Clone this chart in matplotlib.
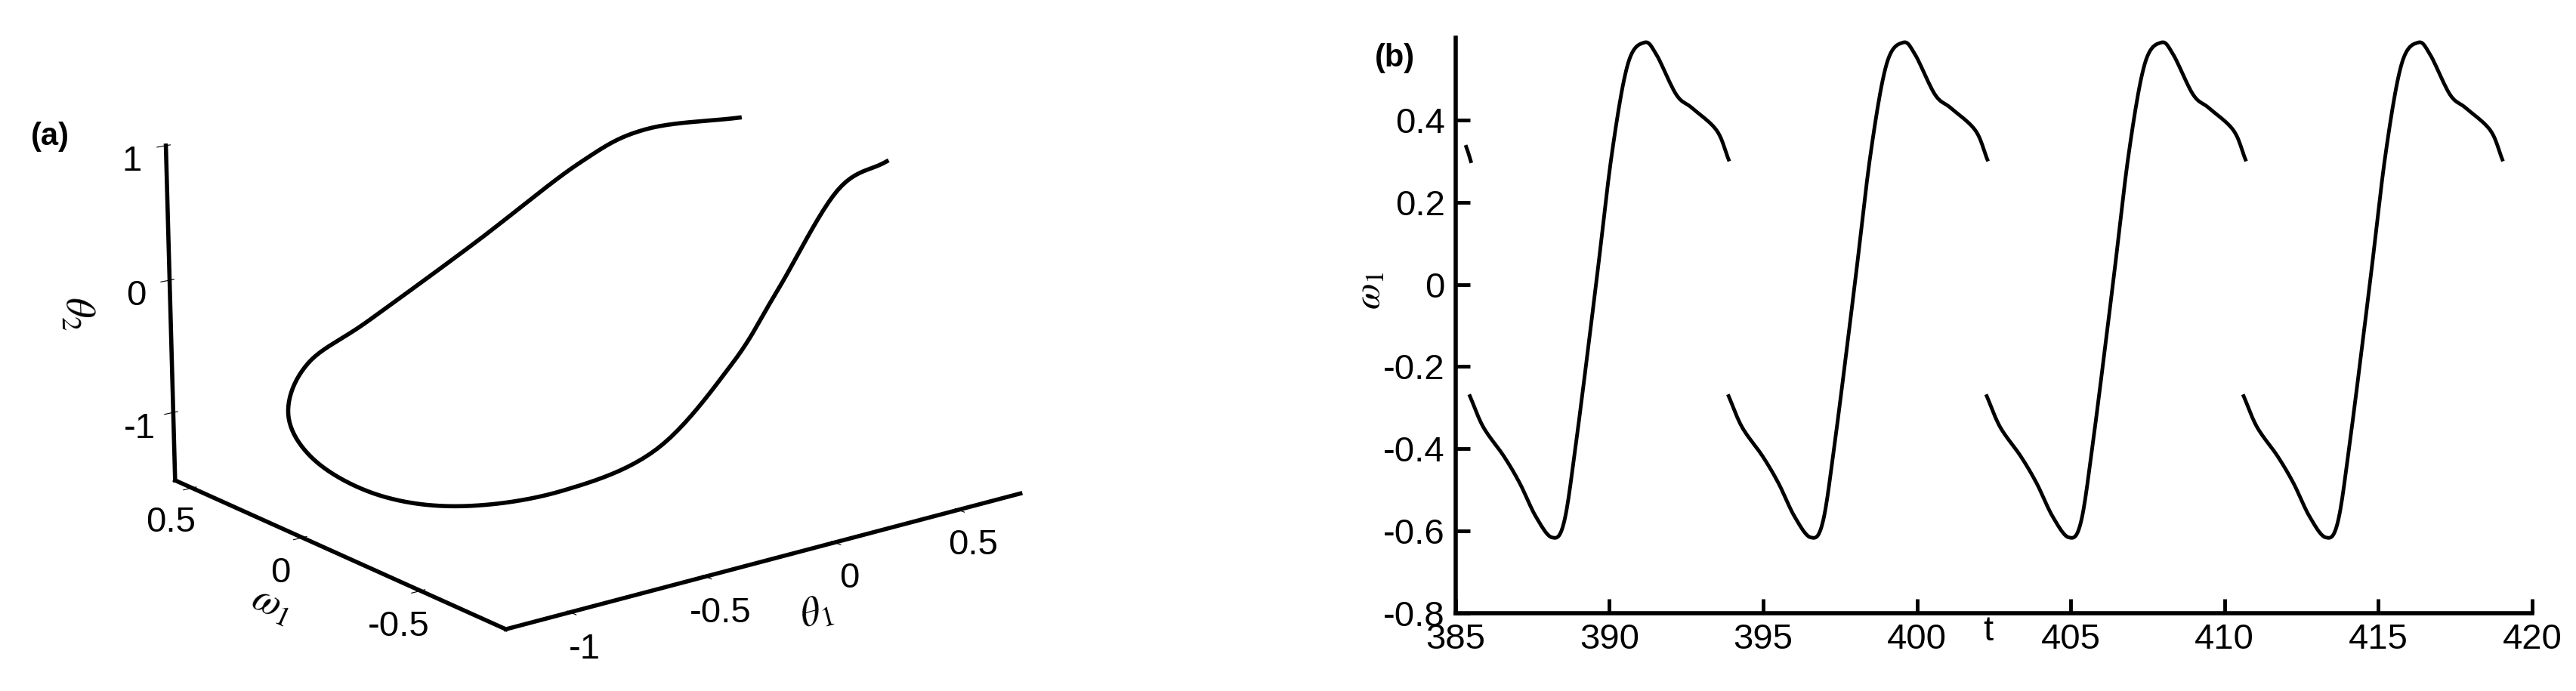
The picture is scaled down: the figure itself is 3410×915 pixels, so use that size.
import numpy as np
import matplotlib
matplotlib.use("Agg")
import matplotlib.pyplot as plt

plt.rcParams['font.family'] = ['Liberation Sans', 'DejaVu Sans']
plt.rcParams['mathtext.fontset'] = 'stix'

# (a) periodic orbit
theta1 = [0.80, 0.51, 0.20, -0.04, -0.42, -0.82, -1.12, -1.20, -1.22, -1.15,
          -0.91, -0.55, -0.05, 0.31, 0.50, 0.77]
omega1_3d = [-0.27, -0.35, -0.42, -0.48, -0.57, -0.62, -0.55, -0.30, -0.05, 0.15,
             0.35, 0.50, 0.59, 0.52, 0.43, 0.30]
theta2 = [0.63, 0.56, -0.02, -0.43, -0.83, -0.91, -0.93, -1.00, -0.92, -0.75,
          -0.61, -0.53, -0.18, 0.35, 0.60, 0.67]

# (b) one cycle of omega_1(t), relative to each segment start
cycle_dt = [0.0, 0.44, 1.10, 1.62, 2.14, 2.66, 3.05, 3.45, 4.10, 4.62, 5.14,
            5.67, 6.06, 6.71, 7.23, 8.02, 8.41]
cycle_w = [-0.272, -0.348, -0.418, -0.484, -0.565, -0.616, -0.582, -0.386, 0.0,
           0.321, 0.538, 0.589, 0.56, 0.462, 0.429, 0.375, 0.304]
seg_starts = [385.47, 393.88, 402.27, 410.62]
frag_t = [385.35, 385.42, 385.50]
frag_w = [0.335, 0.32, 0.30]


def smooth(*cols, n=12):
    # Catmull-Rom curve through the read points, only to draw them smoothly
    p = np.array(cols, dtype=float).T
    p = np.vstack([2 * p[0] - p[1], p, 2 * p[-1] - p[-2]])
    out = []
    for i in range(1, len(p) - 2):
        p0, p1, p2, p3 = p[i - 1], p[i], p[i + 1], p[i + 2]
        for s in np.linspace(0, 1, n, endpoint=False):
            out.append(0.5 * (2 * p1 + (p2 - p0) * s
                              + (2 * p0 - 5 * p1 + 4 * p2 - p3) * s ** 2
                              + (3 * p1 - p0 - 3 * p2 + p3) * s ** 3))
    out.append(p[-2])
    return np.array(out).T


fig = plt.figure(figsize=(34.1, 9.15), dpi=100)
FS = 34

# ---- panel (a)
ax = fig.add_axes([-0.033, -0.07, 0.52, 1.18], projection='3d')
ax.set_box_aspect((1.85, 1.6, 1), zoom=1.1)
x3, y3, z3 = smooth(theta1, omega1_3d, theta2)
ax.plot(x3, y3, z3, color='black', lw=4)
ax.set_xlim(-1.23, 0.76)
ax.set_ylim(-0.84, 0.58)
ax.set_zlim(-1.52, 1.0)
ax.view_init(elev=16, azim=-128)
ax.grid(False)
for a in (ax.xaxis, ax.yaxis, ax.zaxis):
    a.set_pane_color((1, 1, 1, 0))
    a.line.set_linewidth(4)
    a.line.set_color('black')
ax.set_xticks([-1, -0.5, 0, 0.5])
ax.set_yticks([-0.5, 0, 0.5])
ax.set_zticks([-1, 0, 1])
ax.set_xticklabels(['-1', '-0.5', '0', '0.5'])
ax.set_yticklabels(['-0.5', '0', '0.5'])
ax.set_zticklabels(['-1', '0', '1'])
ax.tick_params(labelsize=FS, pad=8)
ax.set_xlabel(r'$\theta_1$', fontsize=FS + 4, labelpad=24)
ax.set_ylabel(r'$\omega_1$', fontsize=FS + 4, labelpad=24)
ax.set_zlabel(r'$\theta_2$', fontsize=FS + 4, labelpad=24)
fig.text(0.012, 0.79, '(a)', fontsize=FS - 4, fontweight='bold')

# ---- panel (b)
bx = fig.add_axes([0.565, 0.113, 0.418, 0.832])
for s in seg_starts:
    tt, ww = smooth(s + np.array(cycle_dt), cycle_w)
    bx.plot(tt, ww, color='black', lw=3.5)
bx.plot(frag_t, frag_w, color='black', lw=3.5)
bx.set_xlim(385, 420)
bx.set_ylim(-0.8, 0.6)
bx.set_xticks(range(385, 421, 5))
bx.set_yticks([-0.8, -0.6, -0.4, -0.2, 0, 0.2, 0.4])
bx.set_yticklabels(['-0.8', '-0.6', '-0.4', '-0.2', '0', '0.2', '0.4'])
bx.spines['top'].set_visible(False)
bx.spines['right'].set_visible(False)
for sp in ('left', 'bottom'):
    bx.spines[sp].set_linewidth(4)
bx.tick_params(labelsize=FS, width=3.5, length=14, direction='in', pad=10)
bx.set_xlabel('t', fontsize=FS, labelpad=-40, x=0.495)
bx.set_ylabel(r'$\omega_1$', fontsize=FS + 2, labelpad=-4, y=0.56)
bx.text(-0.075, 0.95, '(b)', transform=bx.transAxes, fontsize=FS - 4, fontweight='bold')

fig.savefig('out.png', dpi=100)
